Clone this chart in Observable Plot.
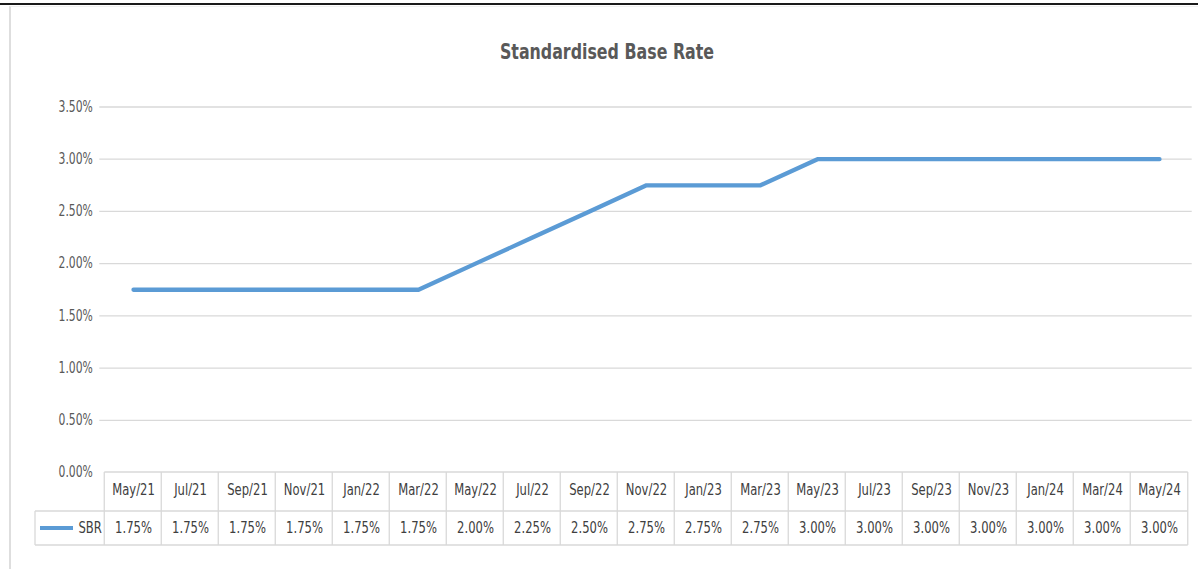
<!DOCTYPE html>
<html><head><meta charset="utf-8">
<script src="https://cdn.jsdelivr.net/npm/d3@7"></script>
<script src="https://cdn.jsdelivr.net/npm/@observablehq/plot@0.6"></script>
<style>
body{margin:0;background:#fff;}
#wrap{position:relative;width:1198px;height:569px;overflow:hidden;font-family:"Liberation Sans Narrow","DejaVu Sans Condensed","Open Sans",sans-serif;}
#topline{position:absolute;left:0;top:3px;width:1198px;height:2px;background:#1a1a1a;}
#panel{position:absolute;left:9px;top:6px;width:1300px;height:700px;border-left:2px solid #dedede;border-top:1px solid #f0f0f0;}
#title{position:absolute;top:39px;left:8px;width:1198px;text-align:center;font-weight:bold;font-size:22px;color:#595959;transform:scaleX(0.8);transform-origin:599px 50%;}
#chart{position:absolute;left:0;top:0;}
</style></head>
<body>
<div id="wrap">
  <div id="topline"></div>
  <div id="panel"></div>
  <div id="title"></div>
  <div id="chart"></div>
</div>
<script>
const chartTitle = "Standardised Base Rate";
const seriesName = "SBR";
const months = ["May/21","Jul/21","Sep/21","Nov/21","Jan/22","Mar/22","May/22","Jul/22","Sep/22","Nov/22","Jan/23","Mar/23","May/23","Jul/23","Sep/23","Nov/23","Jan/24","Mar/24","May/24"];
const sbrValues = [1.75,1.75,1.75,1.75,1.75,1.75,2.00,2.25,2.50,2.75,2.75,2.75,3.00,3.00,3.00,3.00,3.00,3.00,3.00];
const yTicks = [0,0.5,1.0,1.5,2.0,2.5,3.0,3.5];

const data = months.map((m, i) => ({month: m, value: sbrValues[i]}));
const fmt = d => d.toFixed(2) + "%";

const W = 1198, H = 569, mL = 99.3, mR = 6.3;
const step = (W - mL - mR) / months.length;
const lineColor = "#5B9BD5";
const gridColor = "#d9d9d9";
const textColor = "#404040";
const font = "\"Liberation Sans Narrow\",\"DejaVu Sans Condensed\",\"Open Sans\",sans-serif";
const headerH = 39, rowH = 34, legendLeft = 35;
const fs = 15;

document.getElementById("title").textContent = chartTitle;

function tableGrid(index, scales, values, dims, context) {
  const x = scales.x, y = scales.y;
  const left = x(months[0]) - step / 2;
  const right = x(months[months.length - 1]) + step / 2;
  const top = y(0), mid = top + headerH, bottom = mid + rowH;
  const g = d3.create("svg:g").attr("stroke", gridColor).attr("stroke-width", 1.3).attr("fill", "none");
  g.append("line").attr("x1", left).attr("x2", right).attr("y1", top).attr("y2", top);
  g.append("line").attr("x1", legendLeft).attr("x2", right).attr("y1", mid).attr("y2", mid);
  g.append("line").attr("x1", legendLeft).attr("x2", right).attr("y1", bottom).attr("y2", bottom);
  g.append("line").attr("x1", legendLeft).attr("x2", legendLeft).attr("y1", mid).attr("y2", bottom);
  months.forEach(m => {
    const xl = x(m) - step / 2;
    g.append("line").attr("x1", xl).attr("x2", xl).attr("y1", top).attr("y2", bottom);
  });
  g.append("line").attr("x1", right).attr("x2", right).attr("y1", top).attr("y2", bottom);
  // legend swatch
  g.append("line").attr("x1", legendLeft + 5).attr("x2", legendLeft + 38)
    .attr("y1", mid + rowH / 2).attr("y2", mid + rowH / 2)
    .attr("stroke", lineColor).attr("stroke-width", 4);
  return g.node();
}

const chart = Plot.plot({
  width: W, height: H,
  marginLeft: mL, marginRight: mR, marginTop: 106.5, marginBottom: 97,
  style: {fontFamily: font, background: "transparent", overflow: "visible"},
  x: {type: "point", domain: months, padding: 0.5, axis: null},
  y: {domain: [0, 3.5], axis: null},
  marks: [
    Plot.ruleY(yTicks.filter(d => d > 0), {stroke: gridColor, strokeWidth: 1.3}),
    Plot.axisY(yTicks, {tickSize: 0, tickPadding: 7, tickFormat: fmt, label: null, fontSize: fs, fill: "#595959"}),
    tableGrid,
    Plot.lineY(data, {x: "month", y: "value", stroke: lineColor, strokeWidth: 4.3, strokeLinejoin: "round"}),
    Plot.text(months, {x: d => d, y: 0, dy: 18, text: d => d, fontSize: fs, fill: textColor}),
    Plot.text(data, {x: "month", y: 0, dy: headerH + rowH / 2, text: d => fmt(d.value), fontSize: fs, fill: textColor}),
    Plot.text([seriesName], {x: () => months[0], y: 0, dx: -step / 2 - 3, dy: headerH + rowH / 2, text: d => d, textAnchor: "end", fontSize: fs, fill: textColor})
  ]
});
document.getElementById("chart").appendChild(chart);

// condense the glyphs horizontally around each text's own anchor point
d3.select(chart).selectAll("text").each(function() {
  const isAxis = this.closest("g[aria-label='y-axis tick label']") !== null;
  const t = this.getAttribute("transform") || "";
  this.setAttribute("transform", t + " scale(" + (isAxis ? 0.8 : 0.86) + ",1)");
});
</script>
</body></html>
